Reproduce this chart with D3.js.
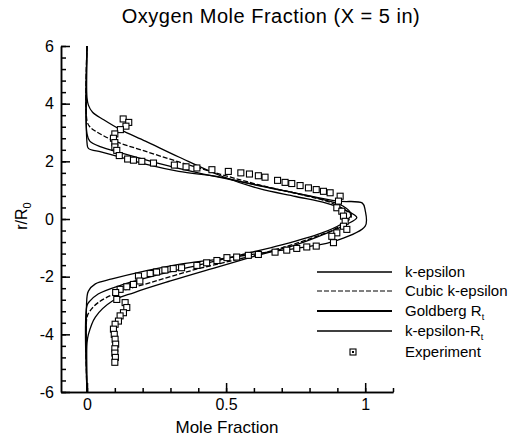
<!DOCTYPE html>
<html>
  <head>
    <meta charset="utf-8">
    <title>Oxygen Mole Fraction</title>
    <script src="https://d3js.org/d3.v7.min.js"></script>
    <style>
      body { margin: 0; background: #fff; }
      svg { display: block; font-family: "Liberation Sans", Arial, sans-serif; }
      .axis path, .axis line { stroke: #000; stroke-width: 1.5; }
      .axis text { font-size: 16px; fill: #000; font-family: "Liberation Sans", Arial, sans-serif; }
      .model { fill: none; stroke: #000; stroke-width: 1.3; }
      .exp { fill: #fff; stroke: #000; stroke-width: 1.1; }
      .legend text { font-size: 15px; }
    </style>
  </head>
  <body>
    <svg id="chart" width="516" height="438"></svg>
    <script>
      // model profiles: [mole fraction, r/R0]
      const kEpsilon = [[0,6],[0,4.2],[0.005,3.95],[0.02,3.7],[0.06,3.44],[0.12,3.1],[0.21,2.7],[0.33,2.15],[0.48,1.5],[0.62,1.05],[0.75,0.78],[0.86,0.55],[0.93,0.3],[0.97,0.05],[0.93,-0.2],[0.86,-0.5],[0.75,-0.9],[0.6,-1.3],[0.45,-1.72],[0.3,-2.15],[0.17,-2.55],[0.09,-2.85],[0.03,-3.4],[0.005,-4.0],[0,-4.3],[0,-6]];
      const cubicKEpsilon = [[0,6],[0,3.4],[0.01,3.2],[0.03,3.05],[0.1,2.7],[0.2,2.38],[0.33,1.98],[0.48,1.55],[0.62,1.18],[0.78,0.82],[0.88,0.55],[0.95,0.1],[0.9,-0.3],[0.82,-0.62],[0.7,-1.0],[0.55,-1.38],[0.39,-1.75],[0.23,-2.2],[0.11,-2.55],[0.04,-2.9],[0.01,-3.2],[0,-3.4],[0,-6]];
      const goldbergRt = [[0,6],[0,2.65],[0.005,2.45],[0.05,2.33],[0.1,2.2],[0.21,1.9],[0.33,1.65],[0.48,1.45],[0.62,1.15],[0.75,0.9],[0.9,0.62],[0.99,0.55],[1.0,0.3],[1.0,-0.25],[0.89,-0.77],[0.8,-0.95],[0.65,-1.15],[0.48,-1.38],[0.33,-1.57],[0.21,-1.8],[0.09,-2.08],[0.03,-2.25],[0.005,-2.5],[0,-2.7],[0,-6]];
      const kEpsilonRt = [[0,6],[0,2.95],[0.01,2.7],[0.05,2.5],[0.12,2.3],[0.25,1.95],[0.4,1.6],[0.55,1.3],[0.7,1.0],[0.84,0.7],[0.92,0.45],[0.95,0.15],[0.91,-0.2],[0.84,-0.5],[0.7,-0.9],[0.55,-1.25],[0.4,-1.6],[0.25,-1.95],[0.12,-2.3],[0.04,-2.6],[0.01,-2.85],[0,-3.0],[0,-6]];
      // measured points
      const experiment = [[0.13,3.47],[0.15,3.35],[0.14,3.22],[0.12,3.1],[0.1,2.95],[0.095,2.8],[0.1,2.65],[0.1,2.5],[0.107,2.38],[0.116,2.2],[0.146,2.08],[0.167,2.04],[0.197,2.0],[0.239,1.94],[0.314,1.87],[0.356,1.81],[0.395,1.77],[0.449,1.71],[0.508,1.65],[0.553,1.6],[0.584,1.56],[0.616,1.5],[0.64,1.45],[0.685,1.34],[0.712,1.27],[0.736,1.23],[0.766,1.16],[0.796,1.08],[0.824,1.02],[0.85,0.96],[0.874,0.91],[0.91,0.79],[0.904,0.62],[0.898,0.39],[0.916,0.27],[0.922,0.1],[0.928,-0.08],[0.922,-0.25],[0.934,-0.36],[0.898,-0.48],[0.88,-0.6],[0.886,-0.82],[0.824,-0.94],[0.79,-0.97],[0.754,-1.02],[0.718,-1.08],[0.676,-1.15],[0.616,-1.23],[0.58,-1.26],[0.538,-1.32],[0.503,-1.34],[0.467,-1.44],[0.43,-1.52],[0.395,-1.61],[0.34,-1.69],[0.31,-1.72],[0.28,-1.77],[0.25,-1.84],[0.227,-1.89],[0.185,-1.98],[0.19,-2.15],[0.167,-2.27],[0.143,-2.35],[0.119,-2.44],[0.103,-2.55],[0.107,-2.79],[0.137,-2.9],[0.143,-3.07],[0.131,-3.25],[0.119,-3.36],[0.113,-3.54],[0.101,-3.65],[0.095,-3.82],[0.098,-4.0],[0.101,-4.17],[0.103,-4.34],[0.1,-4.5],[0.1,-4.65],[0.102,-4.8],[0.1,-4.97]];
      const xTicks = [0, 0.5, 1];
      const yTicks = [-6, -4, -2, 0, 2, 4, 6];
      const series = [
        { name: "k-epsilon", data: kEpsilon, width: 1.3, dash: null },
        { name: "Cubic k-epsilon", data: cubicKEpsilon, width: 1, dash: "5,2" },
        { name: "Goldberg R", sub: "t", data: goldbergRt, width: 1.8, dash: null },
        { name: "k-epsilon-R", sub: "t", data: kEpsilonRt, width: 1.3, dash: null }
      ];

      const svg = d3.select("#chart");
      const x = d3.scaleLinear().domain([-0.0935, 1.1]).range([61, 393]);
      const y = d3.scaleLinear().domain([-6, 6]).range([392, 46]);

      // title
      svg.append("text")
        .attr("x", 271).attr("y", 23)
        .attr("text-anchor", "middle")
        .style("font-size", "20px")
        .style("letter-spacing", "0.5px")
        .text("Oxygen Mole Fraction (X = 5 in)");

      // minor ticks
      svg.append("g").attr("class", "axis")
        .attr("transform", "translate(61,0)")
        .call(d3.axisLeft(y).tickValues(d3.range(-6, 6.01, 0.4)).tickSizeInner(-5).tickSizeOuter(0).tickFormat(""));
      svg.append("g").attr("class", "axis")
        .attr("transform", "translate(0,392)")
        .call(d3.axisBottom(x).tickValues(d3.range(0, 1.101, 0.1)).tickSizeInner(-4).tickSizeOuter(0).tickFormat(""));

      // major ticks
      svg.append("g").attr("class", "axis")
        .attr("transform", "translate(61,0)")
        .call(d3.axisLeft(y).tickValues(yTicks).tickSizeInner(-9).tickSizeOuter(0).tickPadding(7).tickFormat(function(d) { return String(d); }));
      svg.append("g").attr("class", "axis")
        .attr("transform", "translate(0,392)")
        .call(d3.axisBottom(x).tickValues(xTicks).tickSizeInner(-9).tickSizeOuter(0).tickPadding(7).tickFormat(function(d) { return String(d); }));

      // axis titles
      svg.append("text")
        .attr("x", 227).attr("y", 433)
        .attr("text-anchor", "middle")
        .style("font-size", "17px")
        .text("Mole Fraction");
      const yLabel = svg.append("text")
        .attr("transform", "translate(27,216) rotate(-90)")
        .attr("text-anchor", "middle")
        .style("font-size", "16px");
      yLabel.append("tspan").text("r/R");
      yLabel.append("tspan").attr("dy", 4).style("font-size", "11px").text("0");

      // curves
      const line = d3.line()
        .x(function(d) { return x(d[0]); })
        .y(function(d) { return y(d[1]); })
        .curve(d3.curveCatmullRom.alpha(0.5));
      svg.append("g").selectAll("path")
        .data(series)
        .enter().append("path")
          .attr("class", "model")
          .attr("d", function(d) { return line(d.data); })
          .attr("stroke-width", function(d) { return d.width; })
          .attr("stroke-dasharray", function(d) { return d.dash; });

      // experiment squares
      svg.append("g").selectAll("rect")
        .data(experiment)
        .enter().append("rect")
          .attr("class", "exp")
          .attr("x", function(d) { return x(d[0]) - 3; })
          .attr("y", function(d) { return y(d[1]) - 3; })
          .attr("width", 6).attr("height", 6);

      // legend
      const legend = svg.append("g").attr("class", "legend");
      const rows = [272, 291, 311, 331];
      series.forEach(function(s, i) {
        legend.append("line")
          .attr("x1", 317).attr("x2", 392)
          .attr("y1", rows[i]).attr("y2", rows[i])
          .attr("stroke", "#000")
          .attr("stroke-width", s.width)
          .attr("stroke-dasharray", s.dash);
        const t = legend.append("text")
          .attr("x", 405).attr("y", rows[i] + 5)
          .text(s.name);
        if (s.sub) t.append("tspan").attr("dy", 4).style("font-size", "9px").text(s.sub);
      });
      legend.append("rect")
        .attr("class", "exp")
        .attr("x", 350).attr("y", 349)
        .attr("width", 6).attr("height", 6);
      legend.append("rect")
        .attr("x", 352).attr("y", 351)
        .attr("width", 2).attr("height", 2)
        .attr("fill", "#000");
      legend.append("text")
        .attr("x", 405).attr("y", 357)
        .text("Experiment");
    </script>
  </body>
</html>
